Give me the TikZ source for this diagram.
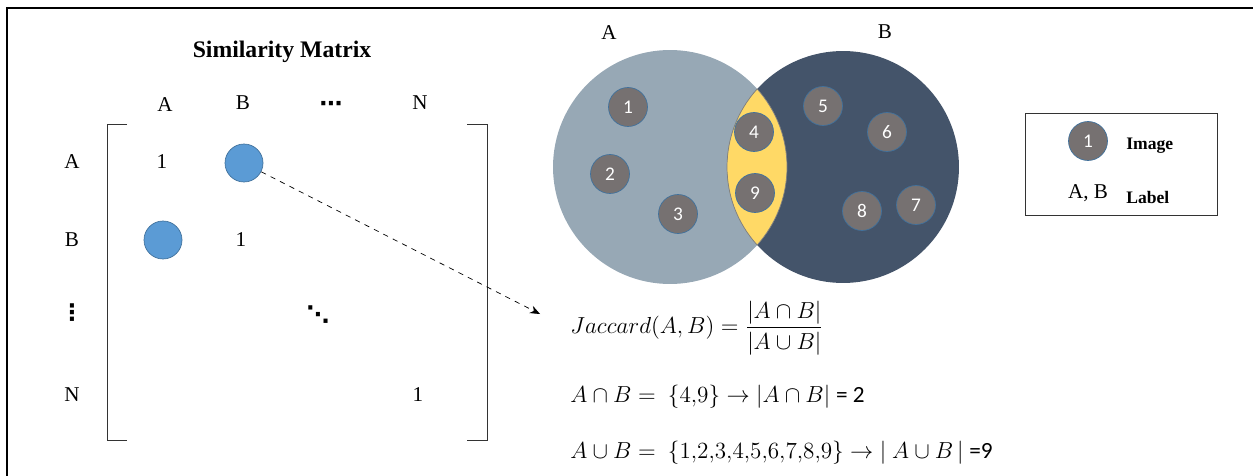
\documentclass[tikz,border=0pt]{standalone}
\usepackage{amsmath}
\usepackage{fontspec}
\setmainfont{Liberation Serif}
\newfontfamily\calib{Carlito}
\newfontfamily\dejavu{DejaVu Sans}
\usetikzlibrary{positioning, arrows.meta}
\definecolor{setAfill}{RGB}{151,168,181}
\definecolor{setBfill}{RGB}{68,84,106}
\definecolor{lensfill}{RGB}{255,217,102}
\definecolor{imgfill}{RGB}{118,113,113}
\definecolor{imgline}{RGB}{65,113,156}
\definecolor{simfill}{RGB}{91,155,213}
\begin{document}
\begin{tikzpicture}[
        x=0.02cm, y=-0.02cm,
        hdr/.style={font=\fontsize{12}{14}\selectfont, inner sep=0pt},
        dotsym/.style={font=\dejavu\bfseries\fontsize{13}{15}\selectfont, inner sep=0pt},
        img/.style={circle, draw=imgline, fill=imgfill, minimum size=0.78cm, inner sep=0pt,
          text=white, font=\calib\fontsize{11}{12}\selectfont},
        sim/.style={circle, draw=imgline, fill=simfill, minimum size=0.76cm, inner sep=0pt},
        legtxt/.style={font=\bfseries\fontsize{10}{12}\selectfont, inner sep=0pt},
        eqn/.style={anchor=west, inner sep=0pt, font=\fontsize{12}{14}\selectfont, scale=1.1, transform shape},
        arrow/.style={-{Stealth[length=2mm,width=1.6mm]}, dashed, thin}
      ]
        \useasboundingbox (0,0) rectangle (1253,476);
        \draw[line width=1.2pt] (7,476) -- (7,8) -- (1253,8);

        % similarity matrix
        \node[font=\bfseries\fontsize{13.5}{16}\selectfont] (title) at (282,52) {Similarity Matrix};
        \node[hdr] (cA) at (165,105) {A};
        \node[hdr] (cB) at (243,103) {B};
        \node[dotsym] (cdots) at (331,106) {⋯};
        \node[hdr] (cN) at (420,103) {N};
        \node[hdr] (rA) at (72,162) {A};
        \node[hdr] (rB) at (72,240) {B};
        \node[dotsym] (rdots) at (72,313) {⋮};
        \node[hdr] (rN) at (72,395) {N};
        \node[hdr] (e11) at (162,162) {1};
        \node[sim] (ab) at (244,163) {};
        \node[sim] (ba) at (163,240) {};
        \node[hdr] (e22) at (241,240) {1};
        \node[dotsym] (eddots) at (318,315) {⋱};
        \node[hdr] (eNN) at (418,395) {1};
        \draw[black!80] (127,124) -- (107,124) -- (107,440) -- (127,440);
        \draw[black!80] (467,124) -- (487,124) -- (487,440) -- (467,440);

        % venn diagram
        \node[circle, fill=setAfill, minimum size=4.68cm, inner sep=0pt] (setA) at (670,167) {};
        \node[circle, fill=setBfill, minimum size=4.64cm, inner sep=0pt] (setB) at (843,167) {};
        \begin{scope}
          \clip (setA.center) circle (2.34cm);
          \fill[lensfill, draw=gray] (setB.center) circle (2.32cm);
        \end{scope}
        \begin{scope}
          \clip (setB.center) circle (2.32cm);
          \draw[gray] (setA.center) circle (2.34cm);
        \end{scope}
        \node[hdr] (labA) at (609,33) {A};
        \node[hdr] (labB) at (885,32) {B};
        \node[img] (i1) at (628,107) {1};
        \node[img] (i2) at (610,174) {2};
        \node[img] (i3) at (678,214) {3};
        \node[img] (i4) at (754,132) {4};
        \node[img] (i5) at (823,106) {5};
        \node[img] (i6) at (887,132) {6};
        \node[img] (i7) at (916,205) {7};
        \node[img] (i8) at (862,211) {8};
        \node[img] (i9) at (755,193) {9};

        % legend
        \node[draw=black!80, minimum width=3.84cm, minimum height=2.04cm] (legend) at (1121,164) {};
        \node[img] (legimg) at (1088,141) {1};
        \node[legtxt, anchor=west] (legimgtxt) at (1126,146) {Image};
        \node[hdr] (leglab) at (1088,193) {A, B};
        \node[legtxt, anchor=west] (leglabtxt) at (1126,197) {Label};

        % jaccard
        \node[eqn] (jac) at (570,328) {$Jaccard(A,B)=\dfrac{|A\cap B|}{|A\cup B|}$};
        \node[eqn] (inter) at (570,397) {$A\cap B=\ \{4{,}9\}\rightarrow|A\cap B|$ {\calib= 2}};
        \node[eqn] (union) at (570,453) {$A\cup B=\ \{1{,}2{,}3{,}4{,}5{,}6{,}7{,}8{,}9\}\rightarrow|\ A\cup B\,|$ {\calib=9}};
        \coordinate (tip) at (540,314);
        \draw[arrow] (ab) -- (tip);
      \end{tikzpicture}
\end{document}
